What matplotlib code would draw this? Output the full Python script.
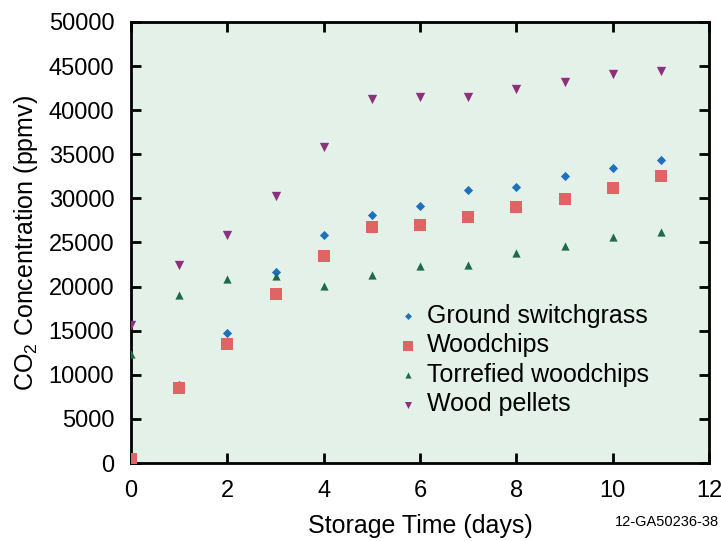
import matplotlib
matplotlib.use("Agg")
import matplotlib.pyplot as plt

plt.rcParams['font.family'] = ['Liberation Sans', 'DejaVu Sans']
plt.rcParams['mathtext.default'] = 'regular'

days = list(range(12))
switchgrass = [300, 8900, 14700, 21700, 25800, 28100, 29100, 30900, 31300, 32500, 33500, 34300]
woodchips = [500, 8500, 13500, 19200, 23500, 26800, 27000, 27900, 29000, 29900, 31200, 32500]
torrefied = [12400, 19100, 20900, 21200, 20100, 21300, 22300, 22500, 23800, 24600, 25600, 26200]
pellets = [15600, 22500, 25800, 30300, 35800, 41300, 41500, 41500, 42400, 43200, 44100, 44400]
labels = ["Ground switchgrass", "Woodchips", "Torrefied woodchips", "Wood pellets"]
xticks = [0, 2, 4, 6, 8, 10, 12]
yticks = list(range(0, 50001, 5000))

fig = plt.figure(figsize=(7.21, 5.41), dpi=100)
ax = fig.add_axes([131/721, 1-463/541, (709-131)/721, (463-22)/541])
ax.set_facecolor('#e3f1e8')

ax.scatter(days, switchgrass, marker='D', s=22, color='#1f6fc0', label=labels[0], zorder=3, linewidths=0)
ax.scatter(days, woodchips, marker='s', s=75, color='#e06464', label=labels[1], zorder=3, linewidths=0)
ax.scatter(days, torrefied, marker='^', s=35, color='#1f6b48', label=labels[2], zorder=3, linewidths=0)
ax.scatter(days, pellets, marker='v', s=45, color='#8e2f7d', label=labels[3], zorder=3, linewidths=0)

ax.set_xlim(0, 12)
ax.set_ylim(0, 50000)
ax.set_xticks(xticks)
ax.set_yticks(yticks)
ax.tick_params(direction='in', length=7, width=2, top=True, right=True, labelsize=17, pad=12)
for sp in ax.spines.values():
    sp.set_linewidth(2)
ax.set_xlabel("Storage Time (days)", fontsize=18, labelpad=9)
ax.set_ylabel("CO$_2$ Concentration (ppmv)", fontsize=18, labelpad=6)

leg = ax.legend(loc='center left', bbox_to_anchor=(0.46, 0.233), frameon=False, fontsize=18,
                handletextpad=0.3, labelspacing=0.22, handlelength=0.9, borderaxespad=0,
                borderpad=0, markerscale=0.75)

fig.text(719/721, 1-522/541, "12-GA50236-38", ha='right', va='center', fontsize=10.5)

fig.savefig("out.png", dpi=100)
